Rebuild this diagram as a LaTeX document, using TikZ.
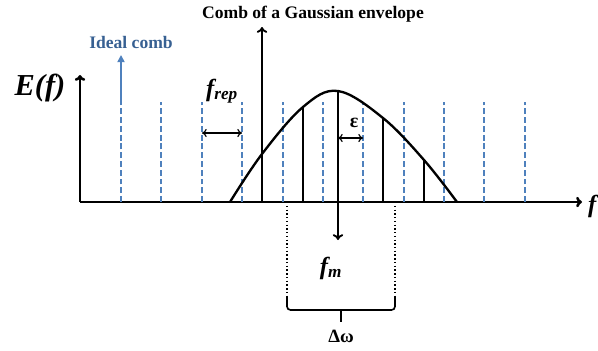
\documentclass[tikz,border=0pt]{standalone}
\usepackage{fontspec}
\setmainfont{Liberation Serif}
\usepackage{xcolor}
\usetikzlibrary{arrows.meta,calc,positioning}
\definecolor{combblue}{RGB}{79,129,189}
\definecolor{textblue}{RGB}{55,96,146}

\begin{document}
\begin{tikzpicture}[x=0.03cm,y=-0.03cm,>={To[length=5pt,width=9pt]},
  axis/.style={line width=2.2pt},
  ideal/.style={combblue,line width=1.4pt,dash pattern=on 5pt off 2.5pt},
  tooth/.style={line width=1.6pt},
  lbl/.style={font=\bfseries\fontsize{15}{15}\selectfont},
  big/.style={font=\bfseries\itshape\fontsize{21}{21}\selectfont}]
\useasboundingbox (0,0) rectangle (598,350);
% axes
\coordinate (o) at (80,202);
\coordinate (xend) at (582,202);
\coordinate (yend) at (80,75);
\draw[axis,->] (o) -- (xend);
\draw[axis,->] (o) -- (yend);
\node[font=\bfseries\itshape\fontsize{26}{26}\selectfont] (ef) at (40,88) {E(f)};
\node[big,anchor=west] (fx) at (584,206) {f};
% ideal comb
\foreach \x in {121,161,202,242,283,323,363,404,444,484,525}
  \draw[ideal] (\x,202) -- (\x,102);
\coordinate (itop) at (121,102);
\coordinate (iarrow) at (121,55);
\draw[combblue,line width=1.4pt,-{Triangle[length=6pt,width=6pt]}] (itop) -- (iarrow);
\node[lbl,textblue] (ideal) at (131,42) {Ideal comb};
% Gaussian envelope
\draw[line width=2pt] plot[smooth,tension=0.6] coordinates
  {(230,202) (262,154) (303,107) (338,91) (383,118) (424,160) (457,202)};
% comb teeth
\coordinate (t1) at (262,202); \coordinate (t1top) at (262,27);
\coordinate (t2) at (303,202); \coordinate (t2top) at (303,107);
\coordinate (t3) at (338,91);  \coordinate (t3bot) at (338,240);
\coordinate (t4) at (383,202); \coordinate (t4top) at (383,118);
\coordinate (t5) at (424,202); \coordinate (t5top) at (424,160);
\draw[tooth,->] (t1) -- (t1top);
\draw[tooth] (t2) -- (t2top);
\draw[tooth,->] (t3) -- (t3bot);
\draw[tooth] (t4) -- (t4top);
\draw[tooth] (t5) -- (t5top);
\node[lbl] (title) at (313,14) {Comb of a Gaussian envelope};
% f_rep
\coordinate (ra) at (202,133);
\coordinate (rb) at (242,133);
\draw[line width=1pt,<->,>={To[length=4pt,width=7pt]}] (ra) -- (rb);
\node[big] (frep) at (222,91) {f\textsubscript{rep}};
% epsilon
\coordinate (ea) at (338,138);
\coordinate (eb) at (363,138);
\draw[line width=1pt,<->,>={To[length=4pt,width=7pt]}] (ea) -- (eb);
\node[lbl,font=\bfseries\fontsize{17}{17}\selectfont] (eps) at (354,123) {ε};
% f_m
\node[big] (fm) at (331,268) {f\textsubscript{m}};
% bandwidth
\coordinate (d1) at (287,202); \coordinate (d1b) at (287,297);
\coordinate (d2) at (395,202); \coordinate (d2b) at (395,297);
\draw[line width=1.2pt,dotted] (d1) -- (d1b);
\draw[line width=1.2pt,dotted] (d2) -- (d2b);
\draw[line width=1.4pt,rounded corners=3pt] (d1b) -- (287,310) -- (395,310) -- (d2b);
\draw[line width=1.4pt] (341,310) -- (341,322);
\node[lbl,font=\bfseries\fontsize{16}{16}\selectfont] (dw) at (341,336) {Δω};
\end{tikzpicture}
\end{document}
